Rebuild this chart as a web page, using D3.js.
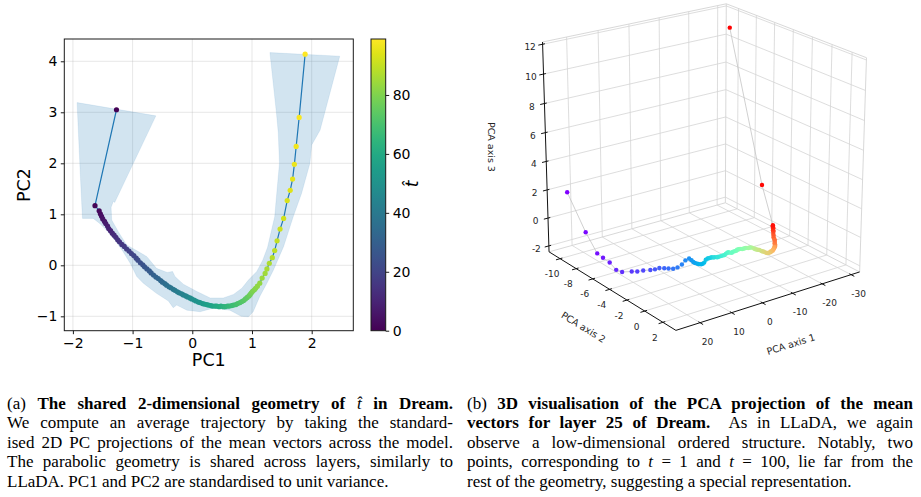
<!DOCTYPE html>
<html>
<head>
<meta charset="utf-8">
<script src="https://cdnjs.cloudflare.com/ajax/libs/d3/7.8.5/d3.min.js"></script>
<style>
  body { margin: 0; width: 921px; height: 497px; background: #fff; position: relative; overflow: hidden; }
  .cap { position: absolute; width: 446px; font-family: "Liberation Serif", serif; font-size: 17px; line-height: 19.4px; color: #000; }
  .cap div { text-align: justify; text-align-last: justify; white-space: nowrap; }
  .cap div.last { text-align-last: left; }
  .cap i.n { font-weight: normal; }
</style>
</head>
<body>
<svg id="fig" width="921" height="385"></svg>
<script>
// ---- (a) averaged 2D trajectory, t-hat = 0..99 ----
const pc1 = [-1.27,-1.63,-1.56,-1.54,-1.52,-1.50,-1.47,-1.45,-1.42,-1.40,
  -1.37,-1.34,-1.31,-1.28,-1.25,-1.22,-1.18,-1.14,-1.10,-1.06,
  -1.02,-0.98,-0.94,-0.91,-0.87,-0.83,-0.80,-0.76,-0.72,-0.69,
  -0.65,-0.61,-0.57,-0.53,-0.50,-0.46,-0.43,-0.39,-0.36,-0.32,
  -0.29,-0.25,-0.22,-0.18,-0.15,-0.11,-0.08,-0.04,-0.01,0.03,
  0.06,0.10,0.13,0.17,0.20,0.24,0.27,0.31,0.34,0.38,
  0.41,0.45,0.48,0.52,0.55,0.59,0.62,0.66,0.69,0.73,
  0.76,0.80,0.83,0.86,0.89,0.92,0.95,0.97,0.99,1.01,
  1.04,1.06,1.09,1.13,1.17,1.22,1.25,1.29,1.34,1.38,
  1.42,1.47,1.53,1.59,1.64,1.68,1.71,1.74,1.79,1.89];
const pc2 = [3.05,1.17,1.07,1.01,0.96,0.91,0.86,0.82,0.77,0.72,
  0.68,0.63,0.59,0.55,0.50,0.46,0.41,0.37,0.32,0.28,
  0.23,0.19,0.14,0.10,0.05,0.01,-0.03,-0.07,-0.11,-0.15,
  -0.19,-0.23,-0.26,-0.30,-0.33,-0.36,-0.39,-0.42,-0.44,-0.47,
  -0.49,-0.52,-0.54,-0.56,-0.58,-0.60,-0.62,-0.64,-0.66,-0.68,
  -0.70,-0.72,-0.73,-0.75,-0.76,-0.77,-0.78,-0.79,-0.80,-0.80,
  -0.80,-0.81,-0.80,-0.81,-0.81,-0.80,-0.80,-0.79,-0.78,-0.77,
  -0.75,-0.73,-0.71,-0.69,-0.66,-0.63,-0.60,-0.57,-0.54,-0.51,
  -0.48,-0.45,-0.41,-0.35,-0.25,-0.16,-0.07,0.04,0.15,0.29,
  0.48,0.71,0.92,1.27,1.47,1.69,1.98,2.33,2.90,4.14];
// outline of the spread band
const bandPC1 = [-1.93,-0.61,-1.30,-1.32,-1.36,-1.35,-1.24,-1.10,-0.92,-0.76,-0.60,-0.42,-0.33,-0.29,-0.15,0.07,
  0.30,0.52,0.69,0.83,0.94,1.08,1.18,1.26,1.33,1.38,1.41,1.46,1.44,1.41,1.30,2.47,2.14,2.00,1.97,1.83,
  1.69,1.53,1.36,1.25,1.13,1.02,0.94,0.82,0.63,0.35,0.13,-0.09,-0.26,-0.32,-0.40,-0.60,-0.82,-0.93,
  -1.04,-1.16,-1.30,-1.44,-1.55,-1.66,-1.84,-1.88];
const bandPC2 = [3.19,2.93,1.23,1.26,1.14,0.89,0.66,0.40,0.28,0.17,-0.06,-0.14,-0.12,-0.22,-0.37,-0.51,
  -0.64,-0.64,-0.57,-0.45,-0.29,-0.12,0.10,0.35,0.70,0.95,1.35,2.00,2.60,2.98,4.17,4.10,2.65,2.36,2.00,1.41,
  0.95,0.37,-0.09,-0.35,-0.61,-0.91,-1.01,-1.00,-0.88,-0.84,-0.91,-0.88,-0.78,-0.83,-0.70,-0.55,-0.35,-0.22,
  0.04,0.27,0.50,0.69,0.82,0.92,0.92,1.88];
const xTicksA = [-2, -1, 0, 1, 2];
const yTicksA = [-1, 0, 1, 2, 3, 4];
const cbTicks = [0, 20, 40, 60, 80];

// ---- (b) layer 25 mean vectors in PCA space, t = 1..100 ----
const pca1 = [22.9,21.9,24.6,24.9,25.2,26.4,25.9,23.7,22.5,20.9,
  19.2,18.0,16.6,15.6,14.8,13.9,12.5,10.5,8.2,6.7,
  6.8,7.1,7.1,6.9,6.7,6.3,5.8,5.0,3.6,2.7,
  2.3,1.8,1.3,1.0,0.6,0.2,-0.1,-0.5,-1.1,-1.7,
  -2.3,-3.0,-3.8,-4.2,-4.4,-4.7,-5.3,-5.9,-6.5,-7.1,
  -7.6,-8.1,-8.5,-8.9,-9.4,-9.8,-10.2,-10.6,-10.9,-11.2,
  -11.3,-11.3,-11.4,-11.6,-11.8,-11.9,-12.0,-12.1,-12.2,-12.3,
  -12.6,-13.0,-13.4,-13.9,-14.4,-14.9,-15.4,-15.9,-16.4,-16.8,
  -16.8,-16.8,-16.7,-16.7,-16.7,-16.6,-16.6,-16.6,-16.5,-16.5,
  -16.5,-16.4,-16.4,-16.4,-16.4,-16.3,-16.3,-16.3,-18.8,-21.4];
const pca2 = [-10.7,-8.9,-6.5,-5.7,-4.8,-3.6,-3.1,-2.8,-2.6,-2.5,
  -2.3,-2.2,-2.2,-2.0,-1.8,-1.6,-1.6,-1.8,-2.2,-2.3,
  -2.0,-1.7,-1.5,-1.3,-1.2,-1.1,-1.1,-1.2,-1.5,-1.6,
  -1.6,-1.6,-1.6,-1.5,-1.5,-1.4,-1.4,-1.4,-1.4,-1.4,
  -1.4,-1.5,-1.6,-1.6,-1.5,-1.4,-1.5,-1.5,-1.5,-1.6,
  -1.6,-1.6,-1.5,-1.5,-1.5,-1.5,-1.4,-1.4,-1.4,-1.3,
  -1.1,-1.0,-0.9,-0.8,-0.7,-0.5,-0.4,-0.3,-0.1,0.0,
  0.0,0.0,0.0,-0.1,-0.1,-0.2,-0.3,-0.4,-0.5,-0.6,
  -0.6,-0.6,-0.6,-0.6,-0.6,-0.6,-0.7,-0.7,-0.7,-0.7,
  -0.7,-0.7,-0.7,-0.7,-0.7,-0.7,-0.7,-0.7,-2.7,-7.2];
const pca3 = [1.8,-0.5,-1.0,-1.0,-1.0,-1.0,-1.0,-1.0,-1.0,-1.0,
  -1.0,-1.0,-1.0,-1.0,-1.0,-1.0,-1.0,-1.0,-1.0,-1.0,
  -1.0,-1.0,-1.0,-1.0,-1.0,-1.0,-1.0,-1.0,-1.0,-1.0,
  -1.0,-1.0,-1.0,-1.0,-1.0,-1.0,-1.0,-1.0,-1.0,-1.0,
  -1.0,-1.0,-1.0,-1.0,-1.0,-1.0,-1.0,-1.0,-1.0,-1.0,
  -1.0,-1.0,-1.0,-1.0,-1.0,-1.0,-1.0,-1.0,-1.0,-1.0,
  -1.0,-1.0,-1.0,-1.0,-1.0,-1.0,-1.0,-1.0,-1.0,-1.0,
  -1.0,-1.0,-1.0,-1.0,-1.0,-1.0,-1.0,-1.0,-1.0,-1.0,
  -0.93,-0.86,-0.78,-0.70,-0.60,-0.50,-0.40,-0.28,-0.15,0.00,
  0.06,0.12,0.20,0.26,0.31,0.37,0.42,0.48,2.5,12.0];
const ticks1 = [20, 10, 0, -10, -20, -30];
const ticks2 = [-10, -8, -6, -4, -2, 0, 2];
const ticks3 = [-2, 0, 2, 4, 6, 8, 10, 12];

const captionA = [
  '(a) <b>The shared 2-dimensional geometry of <i class="n">t\u0302</i> in Dream.</b>',
  'We compute an average trajectory by taking the standard-',
  'ised 2D PC projections of the mean vectors across the model.',
  'The parabolic geometry is shared across layers, similarly to',
  'LLaDA. PC1 and PC2 are standardised to unit variance.'];
const captionB = [
  '(b) <b>3D visualisation of the PCA projection of the mean</b>',
  '<b>vectors for layer 25 of Dream.</b>&nbsp; As in LLaDA, we again',
  'observe a low-dimensional ordered structure. Notably, two',
  'points, corresponding to <i>t</i> = 1 and <i>t</i> = 100, lie far from the',
  'rest of the geometry, suggesting a special representation.'];

const svg = d3.select("#fig");
const fmt = d => d < 0 ? "\u2212" + Math.abs(d) : String(d);

/* ================= panel (a) ================= */
const xA = d3.scaleLinear().domain([-2.144, 2.697]).range([64.3, 353.3]);
const yA = d3.scaleLinear().domain([-1.282, 4.437]).range([330.7, 39]);
const gA = svg.append("g");

gA.append("g").selectAll("line").data(xTicksA).join("line")
  .attr("x1", d => xA(d)).attr("x2", d => xA(d)).attr("y1", 39).attr("y2", 330.7)
  .attr("stroke", "#b0b0b0").attr("stroke-opacity", 0.3);
gA.append("g").selectAll("line").data(yTicksA).join("line")
  .attr("y1", d => yA(d)).attr("y2", d => yA(d)).attr("x1", 64.3).attr("x2", 353.3)
  .attr("stroke", "#b0b0b0").attr("stroke-opacity", 0.3);

const band = bandPC1.map((v, i) => [v, bandPC2[i]]);
gA.append("path")
  .attr("d", d3.line().x(d => xA(d[0])).y(d => yA(d[1]))(band) + "Z")
  .attr("fill", "#1f77b4").attr("fill-opacity", 0.2)
  .attr("stroke", "#1f77b4").attr("stroke-opacity", 0.12).attr("stroke-width", 0.8);

const pts = pc1.map((v, i) => ({x: v, y: pc2[i], t: i}));
gA.append("path")
  .attr("d", d3.line().x(d => xA(d.x)).y(d => yA(d.y))(pts))
  .attr("fill", "none").attr("stroke", "#1f77b4").attr("stroke-width", 1.2);
gA.append("g").selectAll("circle").data(pts).join("circle")
  .attr("cx", d => xA(d.x)).attr("cy", d => yA(d.y)).attr("r", 2.6)
  .attr("fill", d => d3.interpolateViridis(d.t / 99));

gA.append("rect").attr("x", 64.3).attr("y", 39).attr("width", 289).attr("height", 291.7)
  .attr("fill", "none").attr("stroke", "#1a1a1a").attr("stroke-width", 1);

const axA = g => g.attr("font-family", "DejaVu Sans").attr("font-size", 14)
  .call(s => s.select(".domain").remove())
  .call(s => s.selectAll(".tick line").attr("stroke", "#1a1a1a"));
gA.append("g").attr("transform", "translate(0,330.7)")
  .call(d3.axisBottom(xA).tickValues(xTicksA).tickSize(3.5).tickPadding(3.5).tickFormat(fmt)).call(axA);
gA.append("g").attr("transform", "translate(64.3,0)")
  .call(d3.axisLeft(yA).tickValues(yTicksA).tickSize(3.5).tickPadding(3.5).tickFormat(fmt)).call(axA);

gA.append("text").attr("x", 208.8).attr("y", 366).attr("text-anchor", "middle")
  .attr("font-family", "DejaVu Sans").attr("font-size", 17.5).text("PC1");
gA.append("text").attr("transform", "translate(29.5,185) rotate(-90)").attr("text-anchor", "middle")
  .attr("font-family", "DejaVu Sans").attr("font-size", 17.5).text("PC2");

// colour bar
const cb = d3.scaleLinear().domain([0, 99]).range([330.7, 39]);
const grad = svg.append("defs").append("linearGradient").attr("id", "vir")
  .attr("x1", 0).attr("y1", 1).attr("x2", 0).attr("y2", 0);
grad.selectAll("stop").data(d3.range(0, 1.0001, 0.05)).join("stop")
  .attr("offset", d => d).attr("stop-color", d => d3.interpolateViridis(d));
gA.append("rect").attr("x", 371).attr("y", 39).attr("width", 14.7).attr("height", 291.7)
  .attr("fill", "url(#vir)").attr("stroke", "#1a1a1a").attr("stroke-width", 1);
gA.append("g").attr("transform", "translate(385.7,0)")
  .call(d3.axisRight(cb).tickValues(cbTicks).tickSize(3.5).tickPadding(3.5)).call(axA);
gA.append("text").attr("transform", "translate(418,184) rotate(-90)").attr("text-anchor", "middle")
  .attr("font-family", "DejaVu Sans").attr("font-style", "italic").attr("font-size", 17).text("t\u0302");

/* ================= panel (b) ================= */
const lim1 = [-33, 27.5], lim2 = [-11.4, 3.4], lim3 = [-2.43, 12.15];
const n1 = d3.scaleLinear().domain(lim1).range([-0.5, 0.5]);
const n2 = d3.scaleLinear().domain(lim2).range([-0.5, 0.5]);
const n3 = d3.scaleLinear().domain(lim3).range([-0.5, 0.5]);
const azim = 54 * Math.PI / 180, elev = 21 * Math.PI / 180, eyeDist = 8.5;
const W = [Math.cos(elev) * Math.cos(azim), Math.cos(elev) * Math.sin(azim), Math.sin(elev)];
const U = [-Math.sin(azim), Math.cos(azim), 0];
const V = [-Math.sin(elev) * Math.cos(azim), -Math.sin(elev) * Math.sin(azim), Math.cos(elev)];
const sxB = d3.scaleLinear().domain([0, 1]).range([702.5, 702.5 + 227]);
const syB = d3.scaleLinear().domain([0, 1]).range([158, 158 - 227]);

function proj(a, b, c) {
  const p = [n1(a), n2(b), n3(c)];
  const dot = q => p[0] * q[0] + p[1] * q[1] + p[2] * q[2];
  const depth = dot(W);
  const f = eyeDist / (eyeDist - depth);
  return [sxB(f * dot(U)), syB(f * dot(V)), depth];
}

const gB = svg.append("g");
function seg(g, p, q, color, w) {
  const a = proj(...p), b = proj(...q);
  g.append("line").attr("x1", a[0]).attr("y1", a[1]).attr("x2", b[0]).attr("y2", b[1])
    .attr("stroke", color).attr("stroke-width", w);
}
const [x0, x1] = lim1, [y0, y1] = lim2, [z0, z1] = lim3;
const gridC = "#d4d4d4";
const gGrid = gB.append("g");
ticks1.forEach(t => { seg(gGrid, [t, y0, z0], [t, y0, z1], gridC, 0.8); seg(gGrid, [t, y0, z0], [t, y1, z0], gridC, 0.8); });
ticks2.forEach(t => { seg(gGrid, [x0, t, z0], [x0, t, z1], gridC, 0.8); seg(gGrid, [x0, t, z0], [x1, t, z0], gridC, 0.8); });
ticks3.forEach(t => { seg(gGrid, [x0, y0, t], [x1, y0, t], gridC, 0.8); seg(gGrid, [x0, y0, t], [x0, y1, t], gridC, 0.8); });
// pane edges
[[[x0, y0, z1], [x1, y0, z1]], [[x0, y0, z1], [x0, y1, z1]], [[x0, y1, z0], [x0, y1, z1]],
 [[x0, y0, z0], [x0, y0, z1]], [[x0, y0, z0], [x1, y0, z0]], [[x0, y0, z0], [x0, y1, z0]]]
  .forEach(e => seg(gGrid, e[0], e[1], gridC, 0.9));

// axis lines
const gAx = gB.append("g");
seg(gAx, [x1, y0, z0], [x1, y0, z1], "#111", 1);
seg(gAx, [x1, y0, z0], [x1, y1, z0], "#111", 1);
seg(gAx, [x1, y1, z0], [x0, y1, z0], "#111", 1);
const dx = (x1 - x0), dy = (y1 - y0);
ticks3.forEach(t => seg(gAx, [x1 - 0.012 * dx, y0, t], [x1 + 0.022 * dx, y0, t], "#111", 1));
ticks2.forEach(t => seg(gAx, [x1 - 0.012 * dx, t, z0], [x1 + 0.022 * dx, t, z0], "#111", 1));
ticks1.forEach(t => seg(gAx, [t, y1 - 0.012 * dy, z0], [t, y1 + 0.022 * dy, z0], "#111", 1));

const lab = (g, p, off, txt) => g.append("text").attr("x", p[0] + off[0]).attr("y", p[1] + off[1])
  .attr("text-anchor", "middle").attr("dominant-baseline", "central")
  .attr("font-family", "DejaVu Sans").attr("font-size", 9).attr("fill", "#262626").text(txt);
ticks3.forEach(t => lab(gAx, proj(x1, y0, t), [-12.5, 3], t));
ticks2.forEach(t => lab(gAx, proj(x1, t, z0), [-8, 15.5], t));
ticks1.forEach(t => lab(gAx, proj(t, y1, z0), [7.5, 19], t));

function axisTitle(p, q, off, rot, txt) {
  const a = proj(...p), b = proj(...q);
  const mx = (a[0] + b[0]) / 2 + off[0], my = (a[1] + b[1]) / 2 + off[1];
  const ang = rot !== null ? rot : Math.atan2(b[1] - a[1], b[0] - a[0]) * 180 / Math.PI;
  gAx.append("text").attr("transform", `translate(${mx},${my}) rotate(${ang})`)
    .attr("text-anchor", "middle").attr("dominant-baseline", "central")
    .attr("font-family", "DejaVu Sans").attr("font-size", 9.5).attr("fill", "#262626").text(txt);
}
axisTitle([x1, y1, z0], [x0, y1, z0], [23, 43], null, "PCA axis 1");
axisTitle([x1, y0, z0], [x1, y1, z0], [-29, 36], null, "PCA axis 2");
axisTitle([x1, y0, z0], [x1, y0, z1], [-54, 0], 90, "PCA axis 3");

// trajectory
function rainbow(v) {
  const r = Math.abs(2 * v - 0.5), g = Math.sin(Math.PI * v), b = Math.cos(Math.PI * v / 2);
  return d3.rgb(255 * Math.min(1, r), 255 * Math.max(0, g), 255 * Math.max(0, b)).formatHex();
}
const traj = pca1.map((v, i) => {
  const p = proj(v, pca2[i], pca3[i]);
  return {sx: p[0], sy: p[1], depth: p[2], i};
});
gB.append("path")
  .attr("d", d3.line().x(d => d.sx).y(d => d.sy)(traj))
  .attr("fill", "none").attr("stroke", "#c4c4c4").attr("stroke-width", 0.8);
gB.append("g").selectAll("circle").data(traj.slice().sort((a, b) => a.depth - b.depth)).join("circle")
  .attr("cx", d => d.sx).attr("cy", d => d.sy).attr("r", 2.2)
  .attr("fill", d => rainbow(d.i / 99));

/* ================= captions ================= */
function caption(lines, left) {
  const box = d3.select("body").append("div").attr("class", "cap")
    .style("left", left + "px").style("top", "393.9px");
  box.selectAll("div").data(lines).join("div")
    .classed("last", (d, i) => i === lines.length - 1)
    .html(d => d);
}
caption(captionA, 7);
caption(captionB, 467);
</script>
</body>
</html>
